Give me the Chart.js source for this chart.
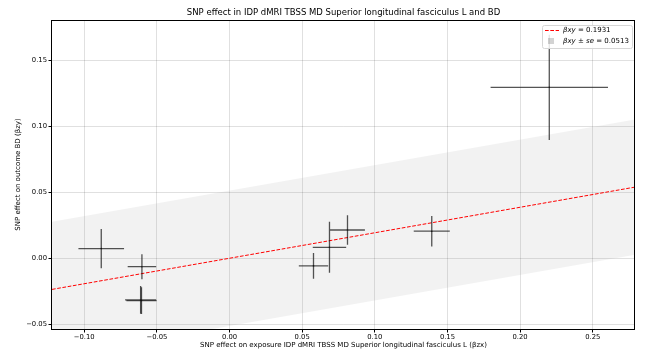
<!DOCTYPE html>
<html>
<head>
<meta charset="utf-8">
<script src="https://cdn.jsdelivr.net/npm/chart.js@4.4.1/dist/chart.umd.min.js"></script>
<style>
  html, body { margin: 0; padding: 0; background: #fff; }
  #wrap { width: 646px; height: 356px; }
</style>
</head>
<body>
<div id="wrap"><canvas id="mr"></canvas></div>
<script>
// SNP effects on exposure (bzx) and outcome (bzy) with their standard errors
const snpBzx   = [-0.0883, -0.0603, -0.0612, -0.0606, 0.0578, 0.0688, 0.0812, 0.1392, 0.2201];
const snpBzy   = [ 0.0073, -0.0064, -0.0316, -0.0321, -0.0058, 0.0083, 0.0214, 0.0205, 0.1295];
const snpSeZx  = [ 0.0157,  0.0098,  0.0107,  0.0104, 0.0101, 0.0115, 0.0120, 0.0124, 0.0404];
const snpSeZy  = [ 0.0148,  0.0095,  0.0105,  0.0102, 0.0098, 0.0193, 0.0111, 0.0116, 0.0399];

// IVW estimate and its standard error
const betaXY = 0.1931;
const betaSE = 0.0513;

// axis limits
const xLim = [-0.1222, 0.2791];
const yLim = [-0.0536, 0.1805];

const chartTitle = "SNP effect in IDP dMRI TBSS MD Superior longitudinal fasciculus L and BD";

const FONT = "'DejaVu Sans', sans-serif";
const fmt = v => v.toFixed(2).replace("-", "\u2212");

const points = snpBzx.map((x, i) => ({ x, y: snpBzy[i] }));
const fitLine = xLim.map(x => ({ x, y: betaXY * x }));
const upper = xLim.map(x => ({ x, y: betaXY * x + betaSE }));
const lower = xLim.map(x => ({ x, y: betaXY * x - betaSE }));

// error bars, axes frame, title over the axes and the legend box
const extras = {
    id: "extras",
    afterDatasetsDraw(chart) {
        const { ctx, chartArea: a, scales: { x, y } } = chart;
        ctx.save();
        ctx.beginPath();
        ctx.rect(a.left, a.top, a.right - a.left, a.bottom - a.top);
        ctx.clip();
        ctx.strokeStyle = "rgba(20,20,20,0.72)";
        ctx.lineWidth = 1.3;
        snpBzx.forEach((bx, i) => {
            const px = x.getPixelForValue(bx);
            const py = y.getPixelForValue(snpBzy[i]);
            ctx.beginPath();
            ctx.moveTo(x.getPixelForValue(bx - snpSeZx[i]), py);
            ctx.lineTo(x.getPixelForValue(bx + snpSeZx[i]), py);
            ctx.moveTo(px, y.getPixelForValue(snpBzy[i] - snpSeZy[i]));
            ctx.lineTo(px, y.getPixelForValue(snpBzy[i] + snpSeZy[i]));
            ctx.stroke();
        });
        ctx.restore();
    },
    afterDraw(chart) {
        const { ctx, chartArea: a } = chart;
        ctx.save();
        // frame
        ctx.strokeStyle = "#000";
        ctx.lineWidth = 1;
        ctx.strokeRect(Math.round(a.left) - 0.5, Math.round(a.top) + 0.5,
                       Math.round(a.right - a.left), Math.round(a.bottom - a.top));

        // title, centred on the axes
        ctx.fillStyle = "#000";
        ctx.font = "8.5px " + FONT;
        ctx.textAlign = "center";
        ctx.textBaseline = "middle";
        ctx.fillText(chartTitle, (a.left + a.right) / 2, a.top - 7);
        ctx.textAlign = "left";

        // legend
        const bx = a.right - 93, by = a.top + 5, bw = 90, bh = 23;
        ctx.fillStyle = "rgba(255,255,255,0.85)";
        ctx.strokeStyle = "#d6d6d6";
        ctx.beginPath();
        ctx.roundRect(bx + 0.5, by + 0.5, bw, bh, 2);
        ctx.fill();
        ctx.stroke();

        ctx.strokeStyle = "red";
        ctx.setLineDash([3.7, 1.6]);
        ctx.beginPath();
        ctx.moveTo(bx + 3, by + 5.5);
        ctx.lineTo(bx + 17, by + 5.5);
        ctx.stroke();
        ctx.setLineDash([]);

        ctx.fillStyle = "rgba(128,128,128,0.35)";
        ctx.fillRect(bx + 6, by + 13, 6, 6);

        ctx.fillStyle = "#000";
        const row = (parts, tx, ty) => {
            parts.forEach(([txt, italic]) => {
                ctx.font = (italic ? "italic " : "") + "7px " + FONT;
                ctx.fillText(txt, tx, ty);
                tx += ctx.measureText(txt).width;
            });
        };
        row([["\u03b2xy", true], [" = " + betaXY.toFixed(4), false]], bx + 21, by + 5.5);
        row([["\u03b2xy", true], [" \u00b1 ", false], ["se", true], [" = " + betaSE.toFixed(4), false]], bx + 21, by + 16);
        ctx.restore();
    }
};

new Chart(document.getElementById("mr"), {
    data: {
        datasets: [
            {
                type: "line", data: upper, borderWidth: 0, pointRadius: 0,
                backgroundColor: "rgba(128,128,128,0.1)", fill: "+1", order: 3
            },
            {
                type: "line", data: lower, borderWidth: 0, pointRadius: 0, fill: false, order: 3
            },
            {
                type: "line", data: fitLine, borderColor: "red", borderWidth: 1,
                borderDash: [3.7, 1.6], pointRadius: 0, fill: false, order: 2
            },
            {
                type: "scatter", data: points, pointRadius: 0.8,
                backgroundColor: "#000", borderWidth: 0, order: 1
            }
        ]
    },
    options: {
        responsive: true,
        maintainAspectRatio: false,
        animation: false,
        layout: { padding: { left: 0, right: 11, top: 20, bottom: 0 } },
        plugins: {
            legend: { display: false },
            tooltip: { enabled: false },
            title: { display: false }
        },
        scales: {
            x: {
                type: "linear", min: xLim[0], max: xLim[1],
                afterFit: s => { s.height = 27; },
                grid: { color: "rgba(0,0,0,0.12)", tickColor: "#000", tickLength: 3.5, drawTicks: true },
                border: { display: false },
                ticks: {
                    stepSize: 0.05, includeBounds: false, color: "#000", padding: 1,
                    maxRotation: 0, font: { family: FONT, size: 6.8 }, callback: v => fmt(v)
                },
                title: {
                    display: true, color: "#000",
                    text: "SNP effect on exposure IDP dMRI TBSS MD Superior longitudinal fasciculus L (\u03b2zx)",
                    font: { family: FONT, size: 7 }, padding: { top: 0, bottom: 6.8 }
                }
            },
            y: {
                type: "linear", min: yLim[0], max: yLim[1],
                afterFit: s => { s.width = 52; },
                grid: { color: "rgba(0,0,0,0.12)", tickColor: "#000", tickLength: 3.5, drawTicks: true },
                border: { display: false },
                ticks: {
                    stepSize: 0.05, includeBounds: false, color: "#000", padding: 1.5,
                    font: { family: FONT, size: 6.8 }, callback: v => fmt(v)
                },
                title: {
                    display: true, color: "#000",
                    text: "SNP effect on outcome BD (\u03b2zy)",
                    font: { family: FONT, size: 7 }, padding: { top: 14.3, bottom: 0 }
                }
            }
        }
    },
    plugins: [extras]
});
</script>
</body>
</html>
